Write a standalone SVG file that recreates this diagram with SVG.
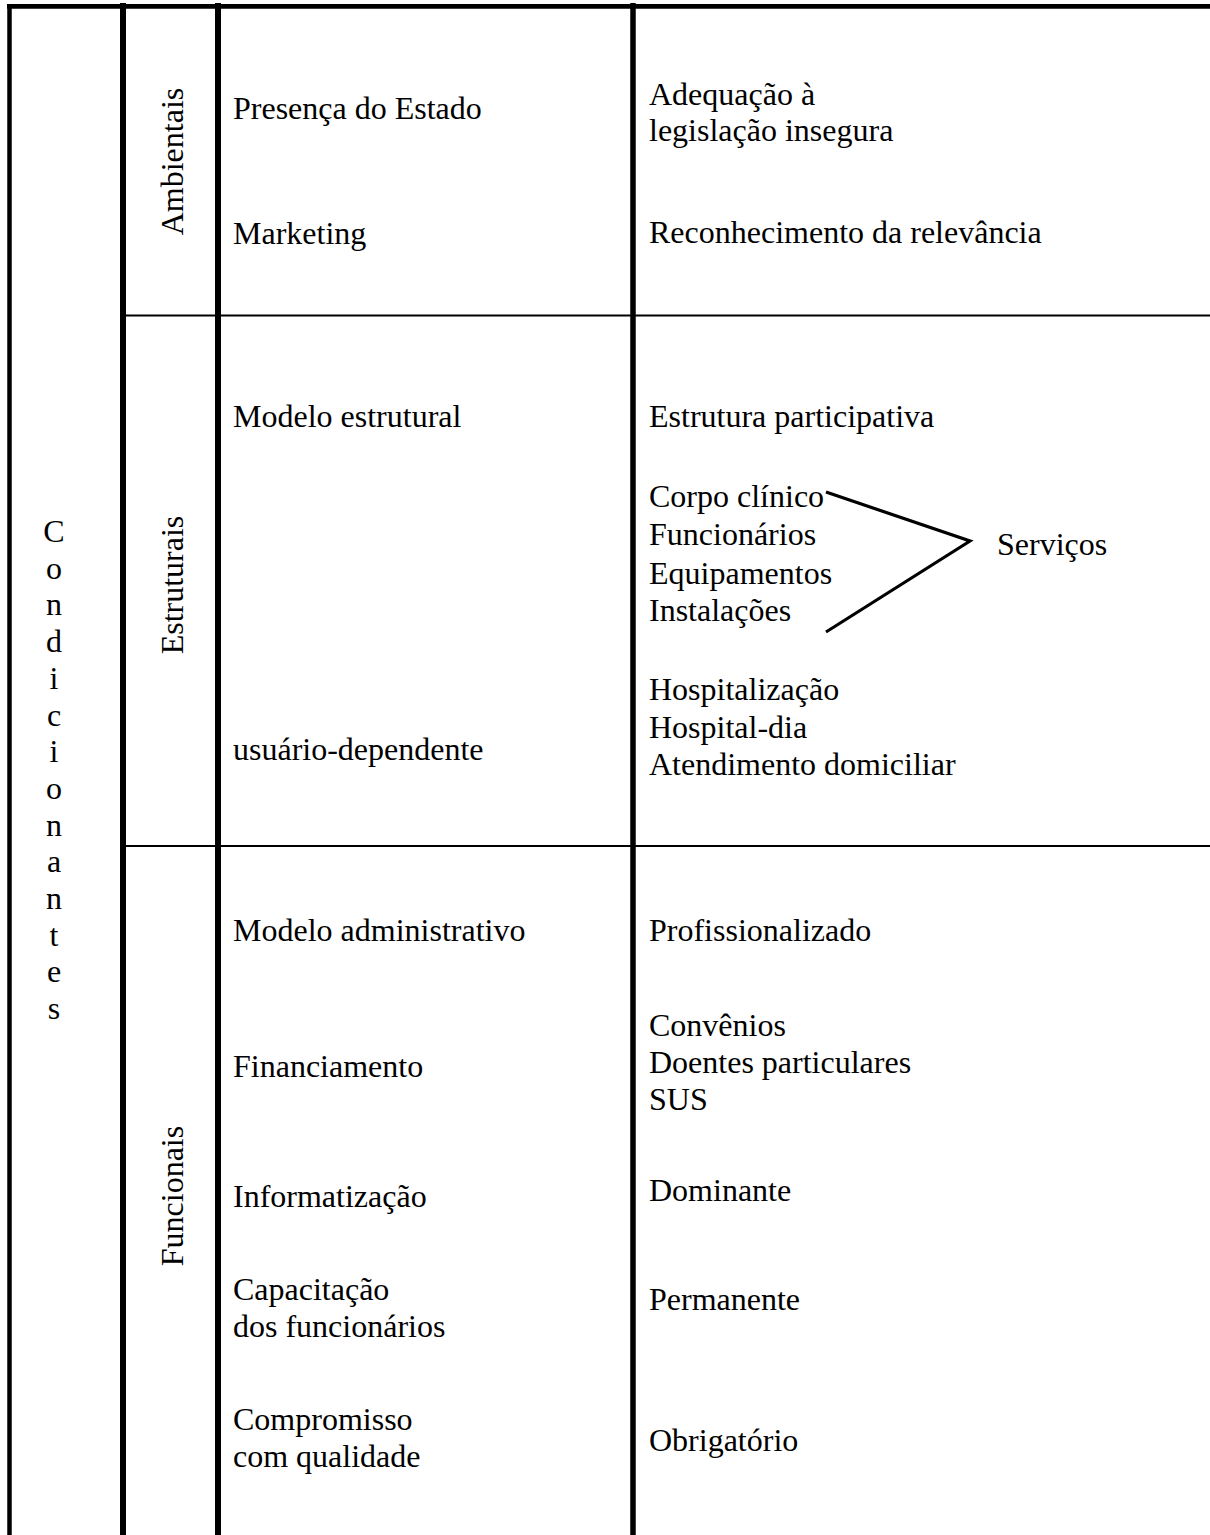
<svg xmlns="http://www.w3.org/2000/svg" width="1210" height="1535" viewBox="0 0 1210 1535">
<style>
text { font-family: "Liberation Serif", "Times New Roman", serif; font-size: 32px; fill: #000; }
.frame { stroke: #000; fill: none; }
</style>
<rect x="0" y="0" width="1210" height="1535" fill="#fff"/>
<g id="grid" class="frame">
  <line x1="7" y1="6.3" x2="1210" y2="6.3" stroke-width="4.7"/>
  <line x1="9.5" y1="4" x2="9.5" y2="1535" stroke-width="4.5"/>
  <line x1="123" y1="3" x2="123" y2="1535" stroke-width="6"/>
  <line x1="218" y1="3" x2="218" y2="1535" stroke-width="6"/>
  <line x1="633" y1="3" x2="633" y2="1535" stroke-width="5.5"/>
  <line x1="123" y1="315.5" x2="1210" y2="315.5" stroke-width="2.2"/>
  <line x1="123" y1="846" x2="1210" y2="846" stroke-width="1.8"/>
</g>
<g id="condicionantes">
  <text text-anchor="middle"><tspan x="54" y="542">C</tspan><tspan x="54" dy="36.7">o</tspan><tspan x="54" dy="36.7">n</tspan><tspan x="54" dy="36.7">d</tspan><tspan x="54" dy="36.7">i</tspan><tspan x="54" dy="36.7">c</tspan><tspan x="54" dy="36.7">i</tspan><tspan x="54" dy="36.7">o</tspan><tspan x="54" dy="36.7">n</tspan><tspan x="54" dy="36.7">a</tspan><tspan x="54" dy="36.7">n</tspan><tspan x="54" dy="36.7">t</tspan><tspan x="54" dy="36.7">e</tspan><tspan x="54" dy="36.7">s</tspan></text>
</g>
<g id="ambientais">
  <text text-anchor="middle" transform="translate(183,161.5) rotate(-90)">Ambientais</text>
  <text x="233" y="119">Presença do Estado</text>
  <text x="233" y="244">Marketing</text>
  <text x="649" y="105">Adequação à</text>
  <text x="649" y="141">legislação insegura</text>
  <text x="649" y="243">Reconhecimento da relevância</text>
</g>
<g id="estruturais">
  <text text-anchor="middle" transform="translate(183,585) rotate(-90)">Estruturais</text>
  <text x="233" y="427">Modelo estrutural</text>
  <text x="649" y="427">Estrutura participativa</text>
  <text x="649" y="507">Corpo clínico</text>
  <text x="649" y="545">Funcionários</text>
  <text x="649" y="584">Equipamentos</text>
  <text x="649" y="621">Instalações</text>
  <text x="997" y="555">Serviços</text>
  <text x="233" y="760">usuário-dependente</text>
  <text x="649" y="700">Hospitalização</text>
  <text x="649" y="738">Hospital-dia</text>
  <text x="649" y="775">Atendimento domiciliar</text>
</g>
<g id="connectors">
  <polyline points="826,492 970,541 826,632" fill="none" stroke="#000" stroke-width="3.2"/>
</g>
<g id="funcionais">
  <text text-anchor="middle" transform="translate(183,1196) rotate(-90)">Funcionais</text>
  <text x="233" y="941">Modelo administrativo</text>
  <text x="649" y="941">Profissionalizado</text>
  <text x="233" y="1077">Financiamento</text>
  <text x="649" y="1036">Convênios</text>
  <text x="649" y="1073">Doentes particulares</text>
  <text x="649" y="1110">SUS</text>
  <text x="233" y="1207">Informatização</text>
  <text x="649" y="1201">Dominante</text>
  <text x="233" y="1300">Capacitação</text>
  <text x="233" y="1337">dos funcionários</text>
  <text x="649" y="1310">Permanente</text>
  <text x="233" y="1430">Compromisso</text>
  <text x="233" y="1467">com qualidade</text>
  <text x="649" y="1451">Obrigatório</text>
</g>
</svg>
